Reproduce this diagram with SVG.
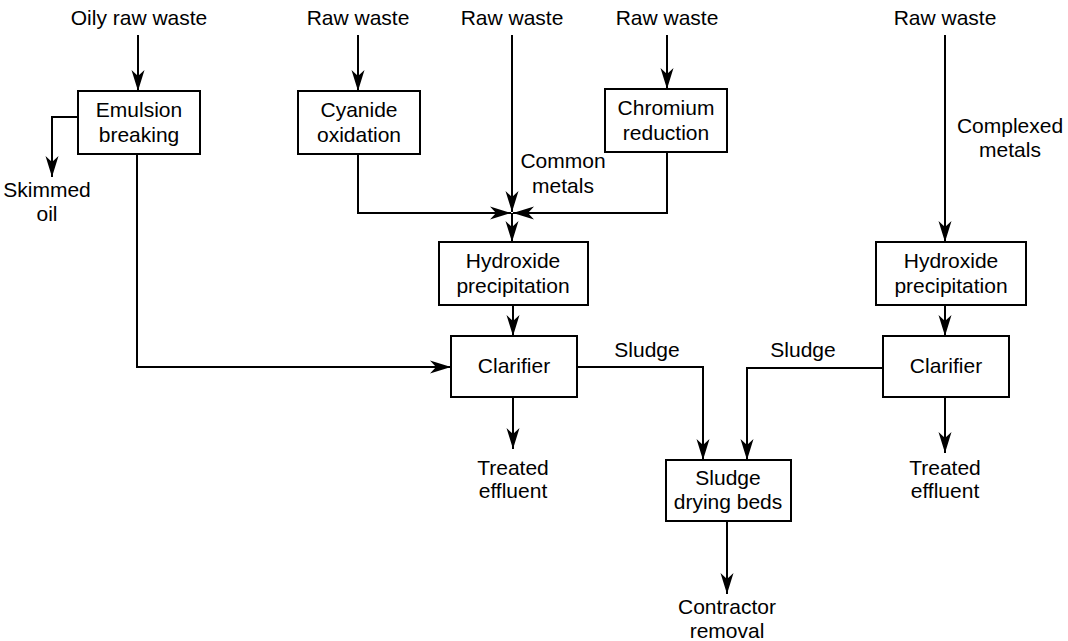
<svg xmlns="http://www.w3.org/2000/svg" width="1068" height="641" viewBox="0 0 1068 641">
  <style>
    .box { fill: #fff; stroke: #000; stroke-width: 2; }
    .flow { fill: none; stroke: #000; stroke-width: 2; marker-end: url(#head); }
    text { font-family: "Liberation Sans", Arial, Helvetica, sans-serif; font-size: 21px; fill: #000; text-anchor: middle; }
  </style>
  <defs>
    <marker id="head" viewBox="-21 -7 21 14" markerUnits="userSpaceOnUse" markerWidth="21" markerHeight="14" refX="0" refY="0" orient="auto">
      <path d="M0,0 L-21,-6.5 L-15,0 L-21,6.5 Z" fill="#000"/>
    </marker>
  </defs>
  <rect width="1068" height="641" fill="#fff"/>

  <!-- connectors -->
  <g id="connectors">
    <path class="flow" d="M138,35 V91"/>
    <path class="flow" d="M78,117 H52 V177"/>
    <path class="flow" d="M137,154 V367 H451"/>
    <path class="flow" d="M358,35 V91"/>
    <path class="flow" d="M358,154 V213 H511"/>
    <path class="flow" d="M512,35 V212"/>
    <path class="flow" d="M667,35 V89"/>
    <path class="flow" d="M667,152 V213 H513"/>
    <path class="flow" d="M512,213 V242"/>
    <path class="flow" d="M513,305 V336"/>
    <path class="flow" d="M513,397 V449"/>
    <path class="flow" d="M577,367 H703 V460"/>
    <path class="flow" d="M945,35 V242"/>
    <path class="flow" d="M945,305 V336"/>
    <path class="flow" d="M945,397 V453"/>
    <path class="flow" d="M883,368 H747 V460"/>
    <path class="flow" d="M727,521 V594"/>
  </g>

  <!-- stream labels -->
  <g id="labels">
    <text x="139" y="25">Oily raw waste</text>
    <text x="358" y="25">Raw waste</text>
    <text x="512" y="25">Raw waste</text>
    <text x="667" y="25">Raw waste</text>
    <text x="945" y="25">Raw waste</text>
    <text x="47" y="197">Skimmed</text>
    <text x="47" y="221">oil</text>
    <text x="563" y="168">Common</text>
    <text x="563" y="193">metals</text>
    <text x="1010" y="133">Complexed</text>
    <text x="1010" y="157">metals</text>
    <text x="647" y="357">Sludge</text>
    <text x="803" y="357">Sludge</text>
    <text x="513" y="475">Treated</text>
    <text x="513" y="498">effluent</text>
    <text x="945" y="475">Treated</text>
    <text x="945" y="498">effluent</text>
    <text x="727" y="614">Contractor</text>
    <text x="727" y="638">removal</text>
  </g>

  <g id="emulsion-breaking">
    <rect class="box" x="78" y="91" width="122" height="63"/>
    <text x="139" y="117">Emulsion</text>
    <text x="139" y="142">breaking</text>
  </g>
  <g id="cyanide-oxidation">
    <rect class="box" x="298" y="91" width="122" height="63"/>
    <text x="359" y="117">Cyanide</text>
    <text x="359" y="142">oxidation</text>
  </g>
  <g id="chromium-reduction">
    <rect class="box" x="605" y="89" width="122" height="63"/>
    <text x="666" y="115">Chromium</text>
    <text x="666" y="140">reduction</text>
  </g>
  <g id="hydroxide-precipitation-1">
    <rect class="box" x="439" y="242" width="149" height="63"/>
    <text x="513" y="268">Hydroxide</text>
    <text x="513" y="293">precipitation</text>
  </g>
  <g id="clarifier-1">
    <rect class="box" x="451" y="336" width="126" height="61"/>
    <text x="514" y="373">Clarifier</text>
  </g>
  <g id="hydroxide-precipitation-2">
    <rect class="box" x="876" y="242" width="150" height="63"/>
    <text x="951" y="268">Hydroxide</text>
    <text x="951" y="293">precipitation</text>
  </g>
  <g id="clarifier-2">
    <rect class="box" x="883" y="336" width="126" height="61"/>
    <text x="946" y="373">Clarifier</text>
  </g>
  <g id="sludge-drying-beds">
    <rect class="box" x="666" y="460" width="125" height="61"/>
    <text x="728" y="485">Sludge</text>
    <text x="728" y="509">drying beds</text>
  </g>
</svg>
